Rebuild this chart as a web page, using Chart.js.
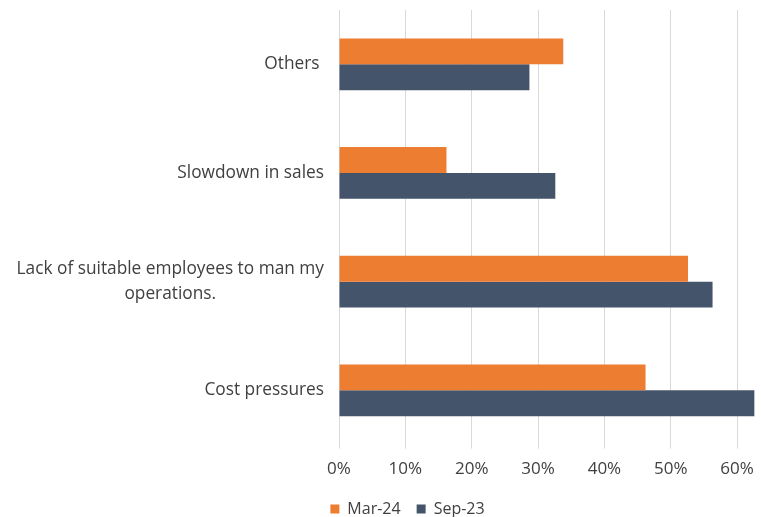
<!DOCTYPE html>
<html>
<head>
<meta charset="utf-8">
<script src="https://cdn.jsdelivr.net/npm/chart.js@4"></script>
<style>
  html, body { margin: 0; padding: 0; background: #fff; }
  #wrap { width: 761px; height: 517px; }
</style>
</head>
<body>
<div id="wrap"><canvas id="c"></canvas></div>
<script>
// Reasons given, top to bottom
const categories = ['Others ', 'Slowdown in sales', ['Lack of suitable employees to man my', 'operations.'], 'Cost pressures'];
const seriesNames = ['Mar-24', 'Sep-23'];
const mar24 = [33.8, 16.2, 52.6, 46.2];
const sep23 = [28.7, 32.6, 56.3, 62.6];
const xTicks = [0, 10, 20, 30, 40, 50, 60];

const FONT = 'Open Sans';
const TEXT = '#404040';
const ORANGE = '#ED7D31';
const SLATE = '#44546A';
const GRID = '#d9d9d9';

// Category labels: each block right-aligned to the axis, wrapped lines centred within the block
const categoryLabels = {
  id: 'categoryLabels',
  afterDraw(chart) {
    const y = chart.scales.y;
    const ctx = chart.ctx;
    ctx.save();
    ctx.font = '17.3px "' + FONT + '"';
    ctx.fillStyle = TEXT;
    ctx.textBaseline = 'middle';
    ctx.textAlign = 'center';
    const right = y.right - 15;
    const lineHeight = 25;
    categories.forEach((lab, i) => {
      const lines = Array.isArray(lab) ? lab : [lab];
      const yc = y.getPixelForTick(i);
      const w = Math.max(...lines.map(l => ctx.measureText(l).width));
      const cx = right - w / 2;
      lines.forEach((l, j) => {
        ctx.fillText(l, cx, yc + (j - (lines.length - 1) / 2) * lineHeight);
      });
    });
    ctx.restore();
  }
};

// Nudge the legend row to sit under the plot
const legendShift = {
  id: 'legendShift',
  afterLayout(chart) {
    const l = chart.legend;
    if (l) { l.left += 28; l.right += 28; l.top -= 4; l.bottom -= 4; }
  }
};

new Chart(document.getElementById('c'), {
  type: 'bar',
  data: {
    labels: categories,
    datasets: [
      { label: seriesNames[0], data: mar24, backgroundColor: ORANGE },
      { label: seriesNames[1], data: sep23, backgroundColor: SLATE }
    ]
  },
  options: {
    indexAxis: 'y',
    responsive: true,
    maintainAspectRatio: false,
    animation: false,
    datasets: { bar: { barPercentage: 1, categoryPercentage: 0.476 } },
    layout: { padding: { top: 10, right: 2, left: 0, bottom: -14 } },
    scales: {
      x: {
        min: 0,
        max: 63.3,
        afterBuildTicks: s => { s.ticks = xTicks.map(v => ({ value: v })); },
        afterFit: s => { s.paddingLeft = 0; s.paddingRight = 0; },
        ticks: {
          callback: v => v + '%',
          font: { family: FONT, size: 17 },
          color: TEXT,
          padding: 10,
          maxRotation: 0,
          autoSkip: false
        },
        grid: { color: GRID, lineWidth: 1, tickLength: 4, drawTicks: true },
        border: { display: false }
      },
      y: {
        afterFit: s => { s.width = 339; },
        ticks: { display: false },
        grid: { display: false },
        border: { display: false }
      }
    },
    plugins: {
      legend: {
        position: 'bottom',
        labels: {
          boxWidth: 9,
          boxHeight: 9,
          padding: 16,
          color: TEXT,
          font: { family: FONT, size: 16 }
        }
      },
      tooltip: { enabled: false }
    }
  },
  plugins: [categoryLabels, legendShift]
});
</script>
</body>
</html>
